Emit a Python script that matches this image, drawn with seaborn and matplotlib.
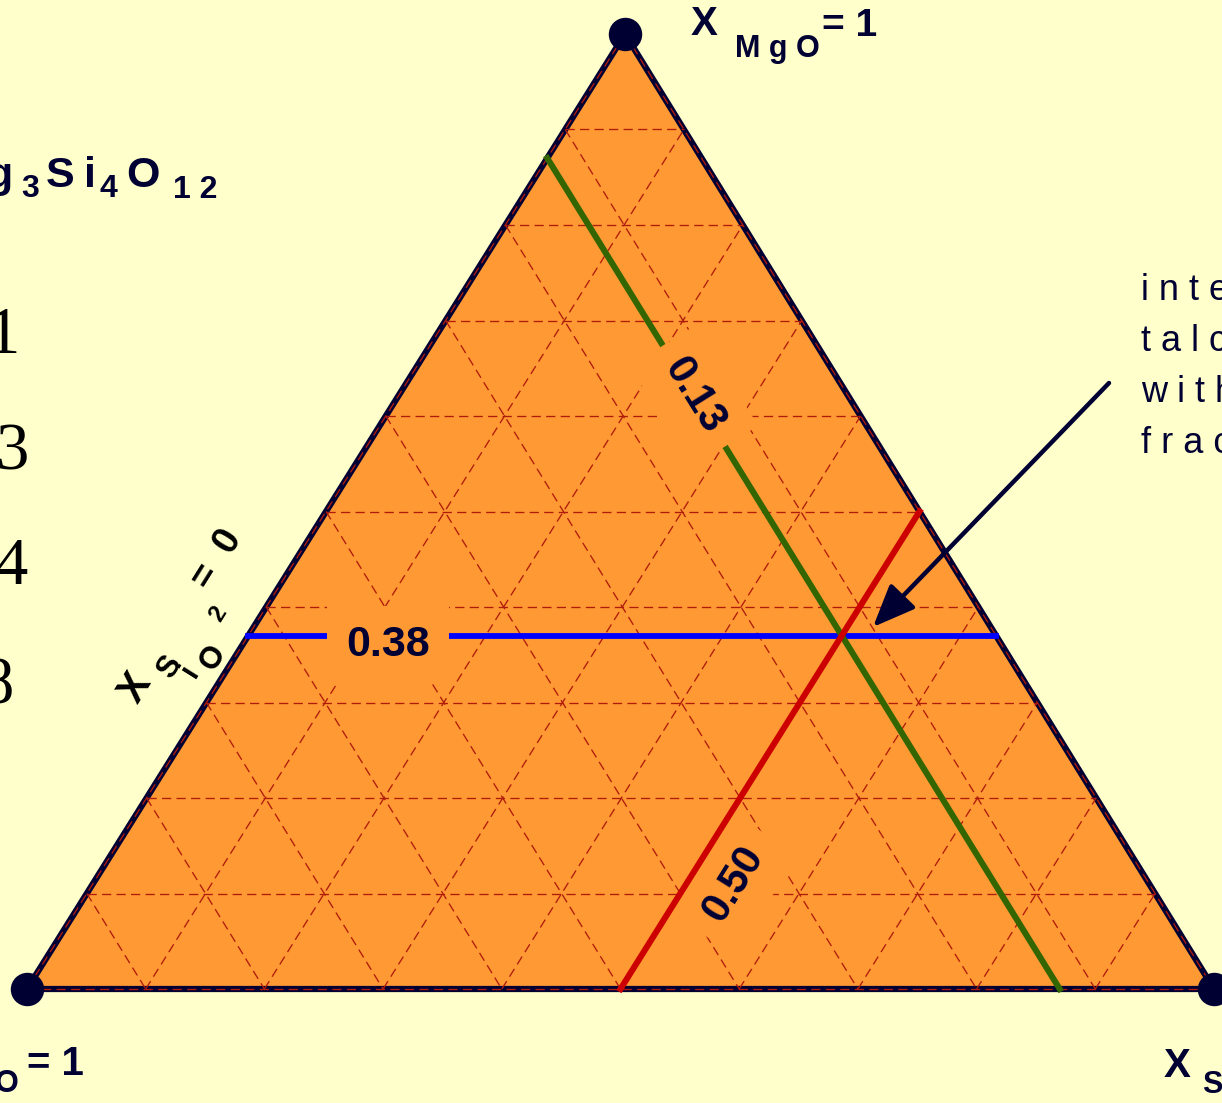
import matplotlib
matplotlib.use("Agg")
import matplotlib.pyplot as plt
import numpy as np
import seaborn as sns

# mole fractions
GRID_LEVELS = [0.0, 0.1, 0.2, 0.3, 0.4, 0.5, 0.6, 0.7, 0.8, 0.9]
TALC_MGO = 0.37
TALC_SIO2 = 0.50
TALC_H2O = 0.13
LABEL_MGO = "0.38"
LABEL_SIO2 = "0.50"
LABEL_H2O = "0.13"
LEFT_NUMBERS = ["1", "3", "4", "8"]
NOTE_LINES = ["i n t e", "t a l c", "w i t h", "f r a c"]

BG = "#ffffcc"
FILL = "#ff9933"
NAVY = "#000033"
GRID = "#b01c0c"
BLUE = "#0000ff"
RED = "#cc0000"
GREEN = "#336600"
SANS = "Liberation Sans"
SERIF = "Liberation Serif"

# corners of the triangle in pixel space
APEX = np.array([625.0, 34.0])    # MgO
RIGHT = np.array([1214.0, 989.0])  # SiO2
LEFT = np.array([27.0, 989.0])    # H2O


def tern(mgo, sio2, h2o):
    return mgo * APEX + sio2 * RIGHT + h2o * LEFT


def draw_line(ax, p0, p1, color, lw, zorder):
    sns.lineplot(x=[p0[0], p1[0]], y=[p0[1], p1[1]], color=color, linewidth=lw,
                 estimator=None, sort=False, ax=ax, zorder=zorder)


def main():
    fig = plt.figure(figsize=(12.22, 11.03), dpi=100, facecolor=BG)
    ax = fig.add_axes([0, 0, 1, 1])
    ax.set_facecolor(BG)

    corners = np.array([tern(1, 0, 0), tern(0, 1, 0), tern(0, 0, 1)])
    ax.fill(corners[:, 0], corners[:, 1], facecolor=FILL, edgecolor=NAVY,
            linewidth=4.5, joinstyle="round", zorder=1)

    dash = (0, (7, 4))
    for v in GRID_LEVELS:
        for p0, p1 in [
            (tern(v, 0, 1 - v), tern(v, 1 - v, 0)),
            (tern(0, v, 1 - v), tern(1 - v, v, 0)),
            (tern(1 - v, 0, v), tern(0, 1 - v, v)),
        ]:
            ax.plot([p0[0], p1[0]], [p0[1], p1[1]], color=GRID, lw=0.95,
                    linestyle=dash, zorder=2)

    m, s, h = TALC_MGO, TALC_SIO2, TALC_H2O
    draw_line(ax, tern(m, 0, 1 - m), tern(m, 1 - m, 0), BLUE, 4.2, 3)
    draw_line(ax, tern(0, s, 1 - s), tern(1 - s, s, 0), RED, 4.4, 5)
    draw_line(ax, tern(1 - h, 0, h), tern(0, 1 - h, h), GREEN, 4.4, 3)

    box = dict(boxstyle="square,pad=0.45", facecolor=FILL, edgecolor="none")
    ax.text(388, 645, LABEL_MGO, fontsize=31, fontweight="bold", family=SANS,
            color=NAVY, ha="center", va="center", bbox=box, zorder=4)
    ax.text(694, 396, LABEL_H2O, fontsize=30, fontweight="bold", family=SANS,
            color=NAVY, ha="center", va="center", rotation=-58,
            rotation_mode="anchor", bbox=box, zorder=4)
    ax.text(734, 884, LABEL_SIO2, fontsize=30, fontweight="bold", family=SANS,
            color=NAVY, ha="center", va="center", rotation=58,
            rotation_mode="anchor", bbox=box, zorder=4)

    sns.scatterplot(x=corners[:, 0], y=corners[:, 1], s=580, color=NAVY,
                    edgecolor=NAVY, linewidth=0, ax=ax, zorder=6, legend=False)

    ax.annotate("", xy=(873, 627), xytext=(1109, 383),
                arrowprops=dict(arrowstyle="-|>,head_length=0.65,head_width=0.27",
                                color=NAVY, lw=3.2, mutation_scale=40,
                                shrinkA=0, shrinkB=0), zorder=7)

    bold = dict(family=SANS, fontweight="bold", color=NAVY, va="baseline")
    # corner labels
    ax.text(691, 35, "X", fontsize=29, ha="left", **bold)
    ax.text(735, 57, "M g O", fontsize=22, ha="left", **bold)
    ax.text(822, 36, "= 1", fontsize=28, ha="left", **bold)
    ax.text(19, 1092, "O", fontsize=22, ha="right", **bold)
    ax.text(27, 1075, "= 1", fontsize=29, ha="left", **bold)
    ax.text(1164, 1077, "X", fontsize=29, ha="left", **bold)
    ax.text(1202, 1093, "S", fontsize=22, ha="left", **bold)

    # formula at the top left
    for txt, x, y, size, ha in [
        ("g", 13, 187, 31, "right"), ("3", 21, 197, 23, "left"),
        ("S", 46, 187, 31, "left"), ("i", 84, 187, 31, "left"),
        ("4", 100, 197, 23, "left"), ("O", 126, 187, 31, "left"),
        ("1 2", 173, 198, 23, "left"),
    ]:
        ax.text(x, y, txt, fontsize=size, ha=ha, **bold)

    for txt, x, y in zip(LEFT_NUMBERS, [19, 29, 28, 14], [353, 469, 584, 704]):
        ax.text(x, y, txt, fontsize=48, family=SERIF, color="black",
                ha="right", va="baseline")

    # rotated edge label along the left side
    for txt, x, y, size in [
        ("X", 135, 688, 29), ("S", 170, 667, 22), ("i", 190, 671, 22),
        ("O", 213, 658, 22), ("2", 218, 614, 17), ("=", 206, 576, 27),
        ("0", 228, 541, 27),
    ]:
        ax.text(x, y, txt, fontsize=size, family=SANS, fontweight="bold",
                color="black", ha="center", va="center", rotation=58,
                rotation_mode="anchor", zorder=0.5)

    for txt, y in zip(NOTE_LINES, [300, 351, 402, 453]):
        ax.text(1141, y, txt, fontsize=26, family=SANS, color=NAVY,
                ha="left", va="baseline")

    ax.set_xlim(0, 1222)
    ax.set_ylim(1103, 0)
    ax.axis("off")
    fig.savefig("out.png", dpi=100, facecolor=BG)


if __name__ == "__main__":
    main()
